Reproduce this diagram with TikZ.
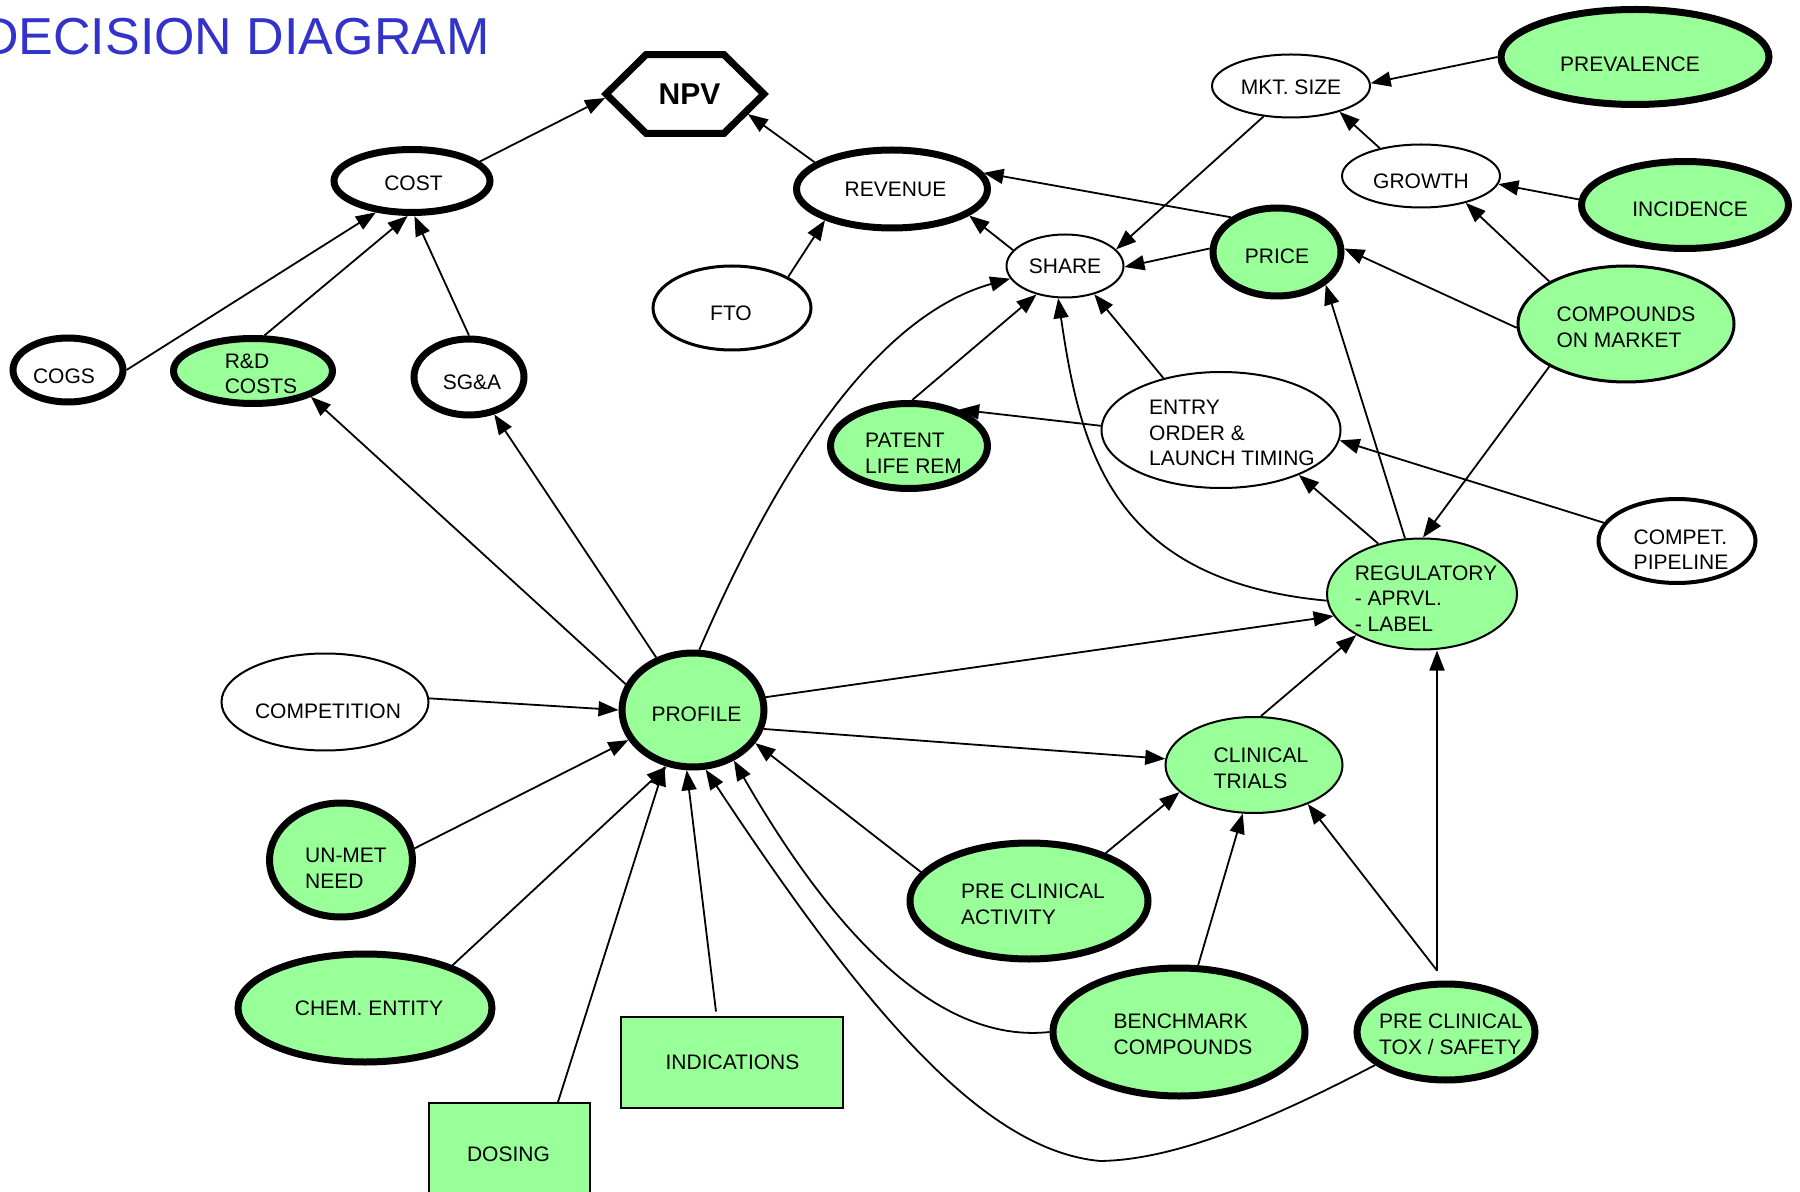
\documentclass[tikz,border=0pt]{standalone}
\usepackage{fontspec}
\setmainfont{Liberation Sans}
\usetikzlibrary{arrows.meta,calc,shapes.geometric}
\definecolor{nodegreen}{HTML}{99FF99}
\definecolor{titleblue}{HTML}{3333CC}

\begin{document}
\begin{tikzpicture}[x=0.5pt,y=-0.5pt,
  lbl/.style={font=\fontsize{10.5}{12.8}\selectfont, align=left, inner sep=0pt},
  oval/.style={ellipse, draw, inner sep=0pt},
  heavy/.style={oval, line width=3.5pt},
  light/.style={oval, line width=1pt},
  filled/.style={fill=nodegreen},
  box/.style={rectangle, draw, fill=nodegreen, line width=1pt, inner sep=0pt},
  sz/.style 2 args={minimum width=#1, minimum height=#2},
  link/.style={line width=0.9pt, -{Triangle[length=10pt,width=7.5pt]}},
]
\useasboundingbox (0,0) rectangle (1800,1192);

% title
\node[anchor=base east, inner sep=0pt, text=titleblue,
      font=\fontsize{26}{30}\selectfont] (title) at (490,55) {DECISION DIAGRAM};

% value node: hexagon around NPV
\node[minimum width=78.5pt, minimum height=39pt, inner sep=0pt] (npv) at (685,94) {};
\draw[line width=3.5pt, line join=miter]
  (npv.west) -- ($(npv.north west)+(40,0)$) -- ($(npv.north east)+(-40,0)$)
  -- (npv.east) -- ($(npv.south east)+(-40,0)$) -- ($(npv.south west)+(40,0)$) -- cycle;
\node[lbl, font=\bfseries\fontsize{15}{18}\selectfont] (npvtxt) at ($(npv)+(4.5,0.5)$) {NPV};

% chance and decision nodes (shapes)
\node[heavy, sz={78pt}{31.5pt}] (cost) at (412,181) {};
\node[heavy, sz={95.5pt}{39pt}] (revenue) at (892,189) {};
\node[oval, line width=1.5pt, sz={79pt}{42pt}] (fto) at (732,308) {};
\node[heavy, sz={55pt}{32pt}] (cogs) at (68,370) {};
\node[heavy, filled, sz={79.5pt}{32.5pt}] (rd) at (253,371) {};
\node[heavy, sz={55pt}{38pt}] (sga) at (469,377) {};
\node[light, sz={79pt}{31.5pt}] (mkt) at (1291,86) {};
\node[heavy, filled, sz={134pt}{47.5pt}] (prev) at (1635,57) {};
\node[light, sz={79pt}{31.5pt}] (growth) at (1421,176) {};
\node[heavy, filled, sz={103.5pt}{43.5pt}] (inc) at (1685,205) {};
\node[light, sz={58.5pt}{31.5pt}] (share) at (1065,266) {};
\node[heavy, filled, sz={64pt}{44pt}] (price) at (1277,252) {};
\node[oval, filled, line width=1.5pt, sz={108pt}{58pt}] (compounds) at (1626,324) {};
\node[heavy, filled, sz={78.5pt}{42.5pt}] (patent) at (909,446) {};
\node[light, sz={119.5pt}{58pt}] (entry) at (1221,430) {};
\node[oval, line width=2pt, sz={78.5pt}{42pt}] (pipeline) at (1677,541) {};
\node[light, filled, sz={95pt}{55.5pt}] (reg) at (1422,594) {};
\node[light, filled, sz={88.5pt}{48pt}] (clinical) at (1254,765) {};
\node[heavy, filled, sz={119pt}{58pt}] (preact) at (1029,901) {};
\node[heavy, filled, sz={126pt}{64pt}] (bench) at (1179,1032) {};
\node[heavy, filled, sz={89pt}{48pt}] (tox) at (1446,1032) {};
\node[heavy, filled, sz={71pt}{57pt}] (profile) at (693,710) {};
\node[light, sz={103.5pt}{48.5pt}] (competition) at (325,702) {};
\node[heavy, filled, sz={71.5pt}{57pt}] (unmet) at (341,860) {};
\node[heavy, filled, sz={127pt}{54pt}] (chem) at (365,1008) {};
\node[box, sz={111pt}{45.5pt}] (ind) at (732,1062) {};
\node[box, sz={80.5pt}{51pt}] (dosing) at (509.5,1154) {};

% their texts
\node[lbl] (costtxt) at ($(cost)+(1.5,2.5)$) {COST};
\node[lbl] (revenuetxt) at ($(revenue)+(3.5,0)$) {REVENUE};
\node[lbl] (ftotxt) at ($(fto)+(-1,5)$) {FTO};
\node[lbl] (cogstxt) at ($(cogs)+(-4,6.5)$) {COGS};
\node[lbl] (rdtxt) at ($(rd)+(8,3)$) {R\&D\\COSTS};
\node[lbl] (sgatxt) at ($(sga)+(3,5.5)$) {SG\&A};
\node[lbl] (mkttxt) at ($(mkt)+(0,1)$) {MKT. SIZE};
\node[lbl] (prevtxt) at ($(prev)+(-5,7.5)$) {PREVALENCE};
\node[lbl] (growthtxt) at ($(growth)+(0,5)$) {GROWTH};
\node[lbl] (inctxt) at ($(inc)+(5,4)$) {INCIDENCE};
\node[lbl] (sharetxt) at ($(share)+(0,0.5)$) {SHARE};
\node[lbl] (pricetxt) at ($(price)+(0,4)$) {PRICE};
\node[lbl] (compoundstxt) at ($(compounds)+(0,3)$) {COMPOUNDS\\ON MARKET};
\node[lbl] (patenttxt) at ($(patent)+(4.5,7)$) {PATENT\\LIFE REM};
\node[lbl] (entrytxt) at ($(entry)+(11,3)$) {ENTRY\\ORDER \&\\LAUNCH TIMING};
\node[lbl] (pipelinetxt) at ($(pipeline)+(4,8.5)$) {COMPET.\\PIPELINE};
\node[lbl] (regtxt) at ($(reg)+(4,4.5)$) {REGULATORY\\- APRVL.\\- LABEL};
\node[lbl] (clinicaltxt) at ($(clinical)+(7,3)$) {CLINICAL\\TRIALS};
\node[lbl] (preacttxt) at ($(preact)+(4,3)$) {PRE CLINICAL\\ACTIVITY};
\node[lbl] (benchtxt) at ($(bench)+(4,2)$) {BENCHMARK\\COMPOUNDS};
\node[lbl] (toxtxt) at ($(tox)+(5,2.5)$) {PRE CLINICAL\\TOX / SAFETY};
\node[lbl] (profiletxt) at ($(profile)+(3.5,4.5)$) {PROFILE};
\node[lbl] (competitiontxt) at ($(competition)+(3,9.5)$) {COMPETITION};
\node[lbl] (unmettxt) at ($(unmet)+(5,8.5)$) {UN-MET\\NEED};
\node[lbl] (chemtxt) at ($(chem)+(4,0.5)$) {CHEM. ENTITY};
\node[lbl] (indtxt) at ($(ind)+(0.5,0.5)$) {INDICATIONS};
\node[lbl] (dosingtxt) at ($(dosing)+(-1,0.5)$) {DOSING};

% influences on the value
\draw[link] (cost.16) -- ($(npv.west)+(-1,4)$);
\draw[link] (revenue.161) -- ($(npv.east)+(-16,20)$);
\draw[link] (cogs.0) -- (cost.-139);
\draw[link] (rd.72) -- (cost.-97);
\draw[link] (sga.90) -- (cost.-86);
\draw[link] (fto.29) -- (revenue.-155);
\draw[link] (share.163) -- (revenue.-19);
\draw[link] (price.143) -- (revenue.10);

% market side
\draw[link] (mkt.-132) -- (share.18);
\draw[link] (prev.180) -- (mkt.2);
\draw[link] (growth.146) -- (mkt.-28);
\draw[link] (inc.177) -- (growth.-6);
\draw[link] (compounds.151) -- (growth.-31);
\draw[link] (compounds.-178) -- (price.3);
\draw[link] (compounds.-151) -- (reg.89);
\draw[link] (price.177) -- (share.-1);
\draw[link] (patent.86) -- (share.-135);
\draw[link] (entry.138) -- (share.-44);
\draw[link] (entry.178) -- (patent.36);
\draw[link] (profile.84) .. controls +(90,-209) and +(-122,34) .. (share.193);
\draw[link] (reg.184) .. controls +(-216,-20) and +(22,150) .. (share.-102);
\draw[link] (reg.131) -- (entry.-30);
\draw[link] (reg.107) -- (price.-34);
\draw[link] (pipeline.166) -- (entry.-5);

% product profile
\draw[link] (profile.159) -- (rd.-24);
\draw[link] (profile.125) -- (sga.-56);
\draw[link] (competition.2) -- (profile.180);
\draw[link] (unmet.9) -- (profile.-155);
\draw[link] (chem.26) -- (profile.-115);
\draw[link] (dosing.47) -- (profile.-117);
\draw[link] ($(ind.north)+(-16,-4)$) -- (profile.-96);
\draw[link] (profile.10) -- (reg.-166);
\draw[link] (profile.-15) -- (clinical.176);
\draw[link] (preact.165) -- (profile.-28);
\draw[link] (preact.32) -- (clinical.-160);
\draw[link] (bench.180) .. controls +(-100,11) and +(112,195) .. (profile.-51);
\draw[link] (bench.74) -- (clinical.-103);
\draw[link] (clinical.82) -- (reg.-148);

% toxicology
\coordinate (toxtop) at ($(tox.north)+(-9,-10)$);
\draw[link] (toxtop) -- (clinical.-36);
\draw[link] (toxtop) -- (toxtop |- reg.south);
\draw[link] (tox.-155) .. controls +(-94,49) and +(80,-1) .. (1100,1161)
  .. controls +(-120,-11) and +(153,231) .. (profile.-78);
\end{tikzpicture}
\end{document}
